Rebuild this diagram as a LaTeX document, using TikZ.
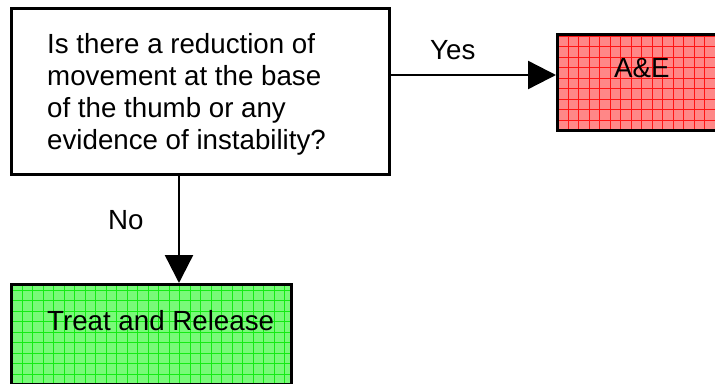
\documentclass[tikz,border=0pt]{standalone}
\usepackage{fontspec}
\setmainfont{Liberation Sans}
\usetikzlibrary{arrows.meta}
\definecolor{redfill}{RGB}{255,135,135}
\definecolor{redline}{RGB}{255,20,20}
\definecolor{greenfill}{RGB}{120,250,120}
\definecolor{greenline}{RGB}{20,235,20}
\tikzset{
  box/.style={draw=black, line width=3pt, inner sep=0pt, anchor=north west},
  gridfill/.style 2 args={fill=#1, path picture={
      \foreach \i in {0,...,30} {
        \draw[#2, line width=0.5pt]
          ([xshift=\i*10.5pt]path picture bounding box.south west) -- ++(0pt,200pt);
        \draw[#2, line width=0.5pt]
          ([yshift=\i*10.5pt]path picture bounding box.south west) -- ++(400pt,0pt);
      }}},
  txt/.style={font=\fontsize{27.7}{32}\selectfont, inner sep=0pt, anchor=base west},
  conn/.style={line width=2.4pt, -{Triangle[length=28pt,width=28pt]}},
}
\begin{document}
\begin{tikzpicture}[x=1pt,y=-1pt]
\useasboundingbox (0,0) rectangle (715,383);
\node[box, fill=white, minimum width=378pt, minimum height=166pt] (q) at (10,7) {};
\node[box, gridfill={redfill}{redline}, minimum width=175pt, minimum height=96pt] (ae) at (556,33) {};
\node[box, gridfill={greenfill}{greenline}, minimum width=280pt, minimum height=100pt] (tr) at (10,283) {};
\node[txt, align=left] (qt) at (47,149) {Is there a reduction of\\movement at the base\\of the thumb or any\\evidence of instability?};
\node[txt] (aet) at (614,77) {A\&E};
\node[txt] (trt) at (47,330) {Treat and Release};
\coordinate (yesstart) at (q.east |- 0,75);
\coordinate (yesend) at (ae.west |- 0,75);
\draw[conn] (yesstart) -- (yesend);
\coordinate (nostart) at (179,173);
\coordinate (noend) at (179,283);
\draw[conn] (q.south -| nostart) -- (tr.north -| noend);
\node[txt] (yes) at (430,59) {Yes};
\node[txt] (no) at (108,229) {No};
\end{tikzpicture}
\end{document}
